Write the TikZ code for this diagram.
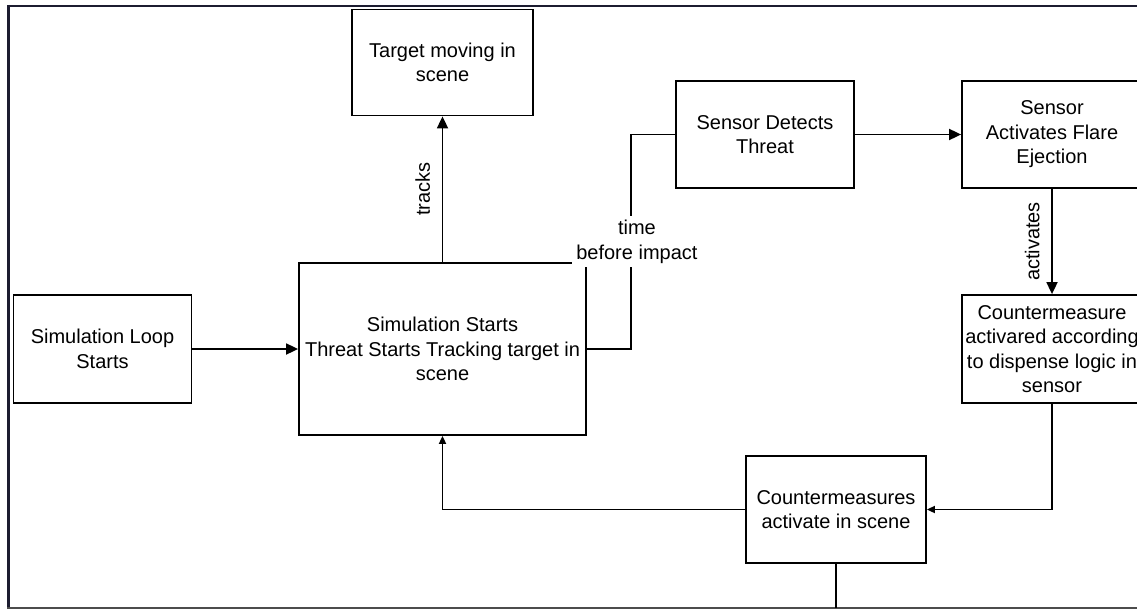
\documentclass[tikz,border=0pt]{standalone}
\usepackage{fontspec}
\setmainfont{Liberation Sans}
\usetikzlibrary{arrows.meta,positioning}
\definecolor{framecol}{RGB}{28,28,48}

\begin{document}
\begin{tikzpicture}[x=1pt,y=-1pt,
  box/.style={draw,line width=1.8pt,inner sep=0pt,align=center,font=\fontsize{20}{24.5}\selectfont},
  conn/.style={line width=1.8pt},
  arr/.style={conn,-{Triangle[length=12pt,width=11pt]}},
  arrsmall/.style={conn,-{Triangle[length=8pt,width=7pt]}},
  lbl/.style={font=\fontsize{20}{24.5}\selectfont,align=center},
  vlbl/.style={lbl,rotate=90,anchor=south,inner xsep=0pt,inner ysep=11.5pt}]
  \useasboundingbox (0,0) rectangle (1137,610);
  \clip (0,0) rectangle (1137,610);
  % border of the window
  \draw[framecol,line width=2pt] (7,6) -- (1150,6);
  \draw[framecol,line width=3.5pt] (8.5,5) -- (8.5,609);
  \draw[gray!60!black,line width=2pt] (7,608) -- (1150,608);

  \node[box,minimum width=181pt,minimum height=106pt] (target) at (442.5,62.5) {Target moving in\\scene};
  \node[box,minimum width=178pt,minimum height=108pt] (loop) at (102.5,349) {Simulation Loop\\Starts};
  \node[box,minimum width=287pt,minimum height=172pt] (sim) at (442.5,349) {Simulation Starts\\Threat Starts Tracking target in\\scene};
  \node[box,minimum width=178pt,minimum height=107pt] (detect) at (765,134.5) {Sensor Detects\\Threat};
  \node[box,minimum width=180pt,minimum height=107pt] (flare) at (1052,134.5) {Sensor\\Activates Flare\\Ejection};
  \node[box,minimum width=180pt,minimum height=108pt] (cmlogic) at (1052,349) {Countermeasure\\activared according\\to dispense logic in\\sensor};
  \node[box,minimum width=180pt,minimum height=107pt] (cmscene) at (836,509.5) {Countermeasures\\activate in scene};

  \draw[arr] (loop) -- (sim);
  \draw[arr] (sim) -- (target) node[vlbl,midway] {tracks};
  \draw[conn] (sim.east) -- ++(44,0) |- (detect.west)
    node[lbl,pos=0.25,xshift=6pt,fill=white,inner sep=4pt] {time\\before impact};
  \draw[arr] (detect) -- (flare);
  \draw[arr] (flare) -- (cmlogic) node[vlbl,midway] {activates};
  \draw[arrsmall] (cmlogic) |- (cmscene);
  \draw[arrsmall] (cmscene) -| (sim);
  \draw[conn] (cmscene.south) -- ++(0,44);
\end{tikzpicture}
\end{document}
